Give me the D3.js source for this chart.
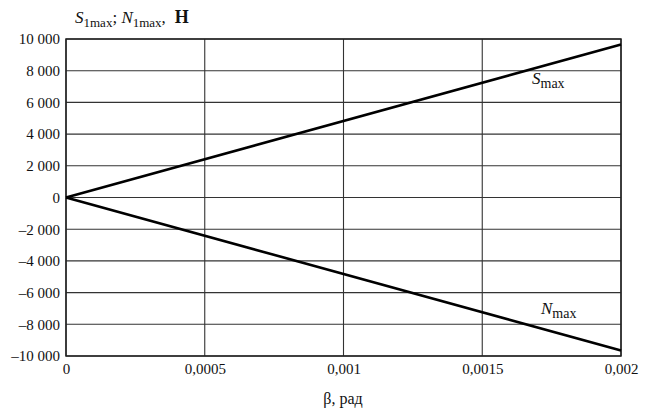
<!DOCTYPE html>
<html><head><meta charset="utf-8">
<script src="https://cdn.jsdelivr.net/npm/d3@7"></script>
<style>body{margin:0;background:#fff}svg{display:block}svg text{font-family:'Liberation Serif',serif !important;fill:#111}</style>
</head><body>
<svg id="c" width="653" height="412"></svg>
<script>
const betaValues = [0, 0.002];
const sMax = [0, 9650];
const nMax = [0, -9650];
const xTicks = [0, 0.0005, 0.001, 0.0015, 0.002];
const xTickLabels = ["0", "0,0005", "0,001", "0,0015", "0,002"];
const yTicks = [-10000, -8000, -6000, -4000, -2000, 0, 2000, 4000, 6000, 8000, 10000];
const yTickLabels = ["–10 000","–8 000","–6 000","–4 000","–2 000","0","2 000","4 000","6 000","8 000","10 000"];

const svg = d3.select("#c");
const m = {l:66, r:621, t:39, b:356};
const x = d3.scaleLinear().domain([0, 0.002]).range([m.l, m.r]);
const y = d3.scaleLinear().domain([-10000, 10000]).range([m.b, m.t]);

svg.append("g").selectAll("line").data(yTicks).join("line")
  .attr("x1", m.l).attr("x2", m.r).attr("y1", d=>y(d)).attr("y2", d=>y(d))
  .attr("stroke", "#333").attr("stroke-width", 1.1);
svg.append("g").selectAll("line").data(xTicks).join("line")
  .attr("x1", d=>x(d)).attr("x2", d=>x(d)).attr("y1", m.t).attr("y2", m.b)
  .attr("stroke", "#333").attr("stroke-width", 1.1);
svg.append("rect").attr("x", m.l).attr("y", m.t).attr("width", m.r-m.l).attr("height", m.b-m.t)
  .attr("fill","none").attr("stroke","#222").attr("stroke-width",1.5);

const yAxis = d3.axisLeft(y).tickValues(yTicks).tickFormat((d,i)=>yTickLabels[i]).tickSize(0).tickPadding(6);
const gy = svg.append("g").attr("transform",`translate(${m.l},0)`).call(yAxis)
  .attr("font-family","Liberation Serif").attr("font-size",15);
gy.select(".domain").remove();
gy.selectAll("text").attr("fill","#111");

const xAxis = d3.axisBottom(x).tickValues(xTicks).tickFormat((d,i)=>xTickLabels[i]).tickSize(0).tickPadding(7);
const gx = svg.append("g").attr("transform",`translate(0,${m.b})`).call(xAxis)
  .attr("font-family","Liberation Serif").attr("font-size",15);
gx.select(".domain").remove();
gx.selectAll("text").attr("fill","#111");

const line = d3.line().x(d=>x(d[0])).y(d=>y(d[1]));
svg.append("path").datum(betaValues.map((b,i)=>[b,sMax[i]])).attr("d", line)
  .attr("fill","none").attr("stroke","#000").attr("stroke-width",2.6);
svg.append("path").datum(betaValues.map((b,i)=>[b,nMax[i]])).attr("d", line)
  .attr("fill","none").attr("stroke","#000").attr("stroke-width",2.6);

const sl = svg.append("text").attr("x", 532).attr("y", 84).attr("font-size",17);
sl.append("tspan").attr("font-style","italic").text("S");
sl.append("tspan").attr("font-size",14).attr("dy",4).text("max");
const nl = svg.append("text").attr("x", 541).attr("y", 314).attr("font-size",17);
nl.append("tspan").attr("font-style","italic").text("N");
nl.append("tspan").attr("font-size",14).attr("dy",4).text("max");

const yt = svg.append("text").attr("x", 75).attr("y", 23).attr("font-size",17);
yt.append("tspan").attr("font-style","italic").text("S");
yt.append("tspan").attr("font-size",13).attr("dy",4).text("1max");
yt.append("tspan").attr("dy",-4).text("; ");
yt.append("tspan").attr("font-style","italic").text("N");
yt.append("tspan").attr("font-size",13).attr("dy",4).text("1max");
yt.append("tspan").attr("dy",-4).text(",");
yt.append("tspan").attr("dx",9).attr("font-weight","bold").attr("font-size",18).text("Н");

svg.append("text").attr("x", 343).attr("y", 404).attr("text-anchor","middle").attr("font-size",16).text("β, рад");
</script>
</body></html>
